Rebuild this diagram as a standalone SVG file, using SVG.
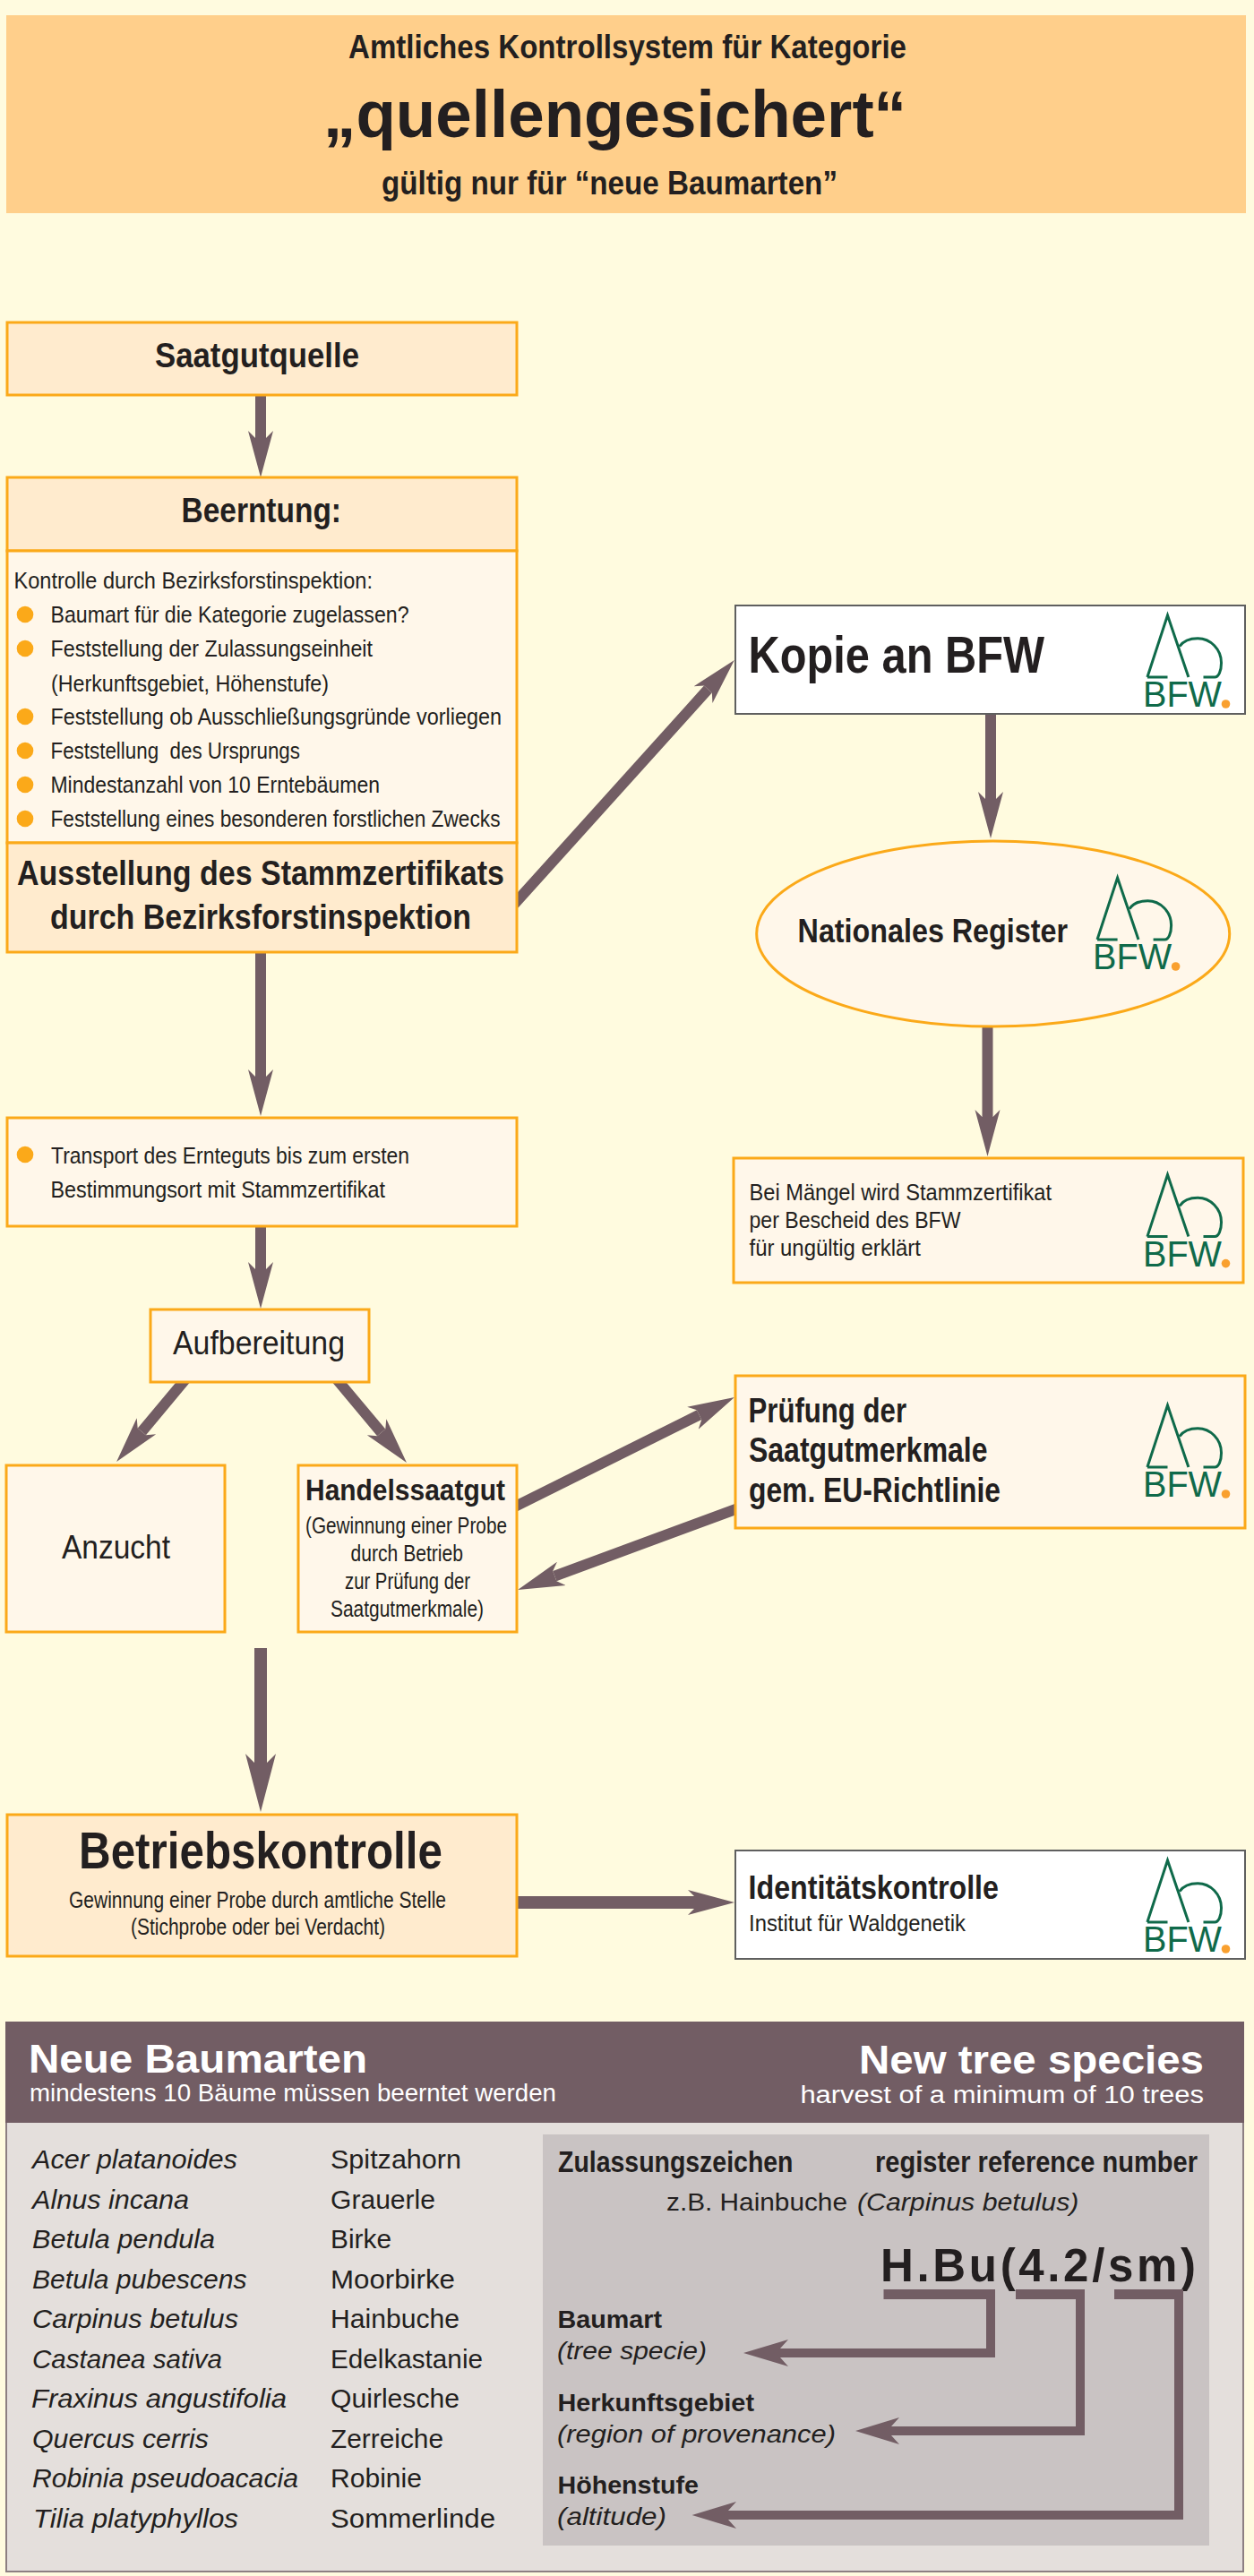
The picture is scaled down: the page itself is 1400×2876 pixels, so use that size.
<svg xmlns="http://www.w3.org/2000/svg" width="1400" height="2876" viewBox="0 0 1400 2876">
<defs>
<style>
text{font-family:"Liberation Sans",Arial,sans-serif;fill:#231f20}
.b{font-weight:700}
.i{font-style:italic}
.w{fill:#fff}
.body{font-size:25px}
.h38{font-size:38px;font-weight:700}
.sp{font-size:30px}
.lab{font-size:28px;font-weight:700}
.ita{font-size:28px;font-style:italic}
.strong{fill:#ffebce;stroke:#fba919;stroke-width:3}
.soft{fill:#fff7ea;stroke:#fba919;stroke-width:3}
.white{fill:#fff;stroke:#5f5f5f;stroke-width:2}
.bul{fill:#fba919}
.sh{stroke:#725d64;stroke-width:12;fill:none}
.sh14{stroke:#725d64;stroke-width:14;fill:none}
.br{fill:#725d64}
.lg{fill:none;stroke:#0f6a4a;stroke-width:3}
.lt{font-size:40px;fill:#0f6a4a}
</style>
<marker id="ah" markerUnits="userSpaceOnUse" markerWidth="54" markerHeight="30" viewBox="0 0 54 30" refX="8" refY="15" orient="auto"><path d="M52,15 L0,1 L8,9 L8,21 L0,29Z" fill="#725d64"/></marker>
<marker id="ahb" markerUnits="userSpaceOnUse" markerWidth="67" markerHeight="36" viewBox="0 0 67 36" refX="10" refY="18" orient="auto"><path d="M65,18 L0,1 L10,11 L10,25 L0,35Z" fill="#725d64"/></marker>
<g id="logo">
<path class="lg" d="M-22.6,72 H0 M-22.6,72 L0,3 L23.4,72"/>
<path class="lg" d="M13.4,37.7 C18,31 25,28.7 33.7,28.7 C48,28.7 60,41 60,56 C60,65 57,72 52.7,72 H40"/>
<text class="lt" x="-27.5" y="105.3" textLength="88" lengthAdjust="spacingAndGlyphs">BFW</text>
<circle cx="65" cy="102" r="4.8" fill="#f9a02f"/>
</g>
</defs>
<rect width="1400" height="2876" fill="#fffbdf"/>

<g id="connectors">
<line class="sh" x1="291" y1="440" x2="291" y2="489" marker-end="url(#ah)"/>
<line class="sh" x1="291" y1="1060" x2="291" y2="1202" marker-end="url(#ah)"/>
<line class="sh" x1="291" y1="1367" x2="291" y2="1417" marker-end="url(#ah)"/>
<line class="sh" x1="207" y1="1540" x2="158.3" y2="1598.3" marker-end="url(#ah)"/>
<line class="sh" x1="376" y1="1540" x2="425.7" y2="1599.3" marker-end="url(#ah)"/>
<line class="sh14" x1="291" y1="1840" x2="291" y2="1968" marker-end="url(#ahb)"/>
<line class="sh14" x1="575" y1="2124" x2="776" y2="2124" marker-end="url(#ah)"/>
<line class="sh" x1="574" y1="1009.5" x2="790.4" y2="769.6" marker-end="url(#ah)"/>
<line class="sh" x1="1106" y1="795" x2="1106" y2="892" marker-end="url(#ah)"/>
<line class="sh" x1="1102.5" y1="1144" x2="1102.5" y2="1247" marker-end="url(#ah)"/>
<line class="sh" x1="574" y1="1682.5" x2="780.6" y2="1579.6" marker-end="url(#ah)"/>
<line class="sh" x1="823" y1="1684.3" x2="619.3" y2="1759.7" marker-end="url(#ah)"/>
</g>

<g id="header">
<rect x="7" y="17" width="1384" height="221" fill="#ffcf8b"/>
<text class="b" x="389" y="65" font-size="37" textLength="623" lengthAdjust="spacingAndGlyphs">Amtliches Kontrollsystem für Kategorie</text>
<text class="b" x="361" y="153" font-size="74" textLength="651" lengthAdjust="spacingAndGlyphs">„quellengesichert“</text>
<text class="b" x="426" y="217" font-size="36" textLength="509" lengthAdjust="spacingAndGlyphs">gültig nur für “neue Baumarten”</text>
</g>

<g id="saatgutquelle">
<rect class="strong" x="8" y="360" width="569" height="81"/>
<text class="h38" x="173" y="410" textLength="228" lengthAdjust="spacingAndGlyphs">Saatgutquelle</text>
</g>

<g id="beerntung">
<rect class="strong" x="8" y="533" width="569" height="82"/>
<text class="h38" x="202.5" y="583" textLength="178.5" lengthAdjust="spacingAndGlyphs">Beerntung:</text>
</g>

<g id="kontrolle">
<rect class="soft" x="8" y="615" width="569" height="326"/>
<text class="body" x="15.5" y="657" textLength="400.5" lengthAdjust="spacingAndGlyphs">Kontrolle durch Bezirksforstinspektion:</text>
<circle class="bul" cx="28" cy="686" r="9.3"/>
<text class="body" x="56.5" y="695" textLength="400" lengthAdjust="spacingAndGlyphs">Baumart für die Kategorie zugelassen?</text>
<circle class="bul" cx="28" cy="724" r="9.3"/>
<text class="body" x="56.5" y="733" textLength="359.5" lengthAdjust="spacingAndGlyphs">Feststellung der Zulassungseinheit</text>
<text class="body" x="57" y="772" textLength="310" lengthAdjust="spacingAndGlyphs">(Herkunftsgebiet, Höhenstufe)</text>
<circle class="bul" cx="28" cy="800" r="9.3"/>
<text class="body" x="56.5" y="809" textLength="503.5" lengthAdjust="spacingAndGlyphs">Feststellung ob Ausschließungsgründe vorliegen</text>
<circle class="bul" cx="28" cy="838" r="9.3"/>
<text class="body" x="56.5" y="847" textLength="278.5" lengthAdjust="spacingAndGlyphs" xml:space="preserve">Feststellung  des Ursprungs</text>
<circle class="bul" cx="28" cy="876" r="9.3"/>
<text class="body" x="56.5" y="885" textLength="367.5" lengthAdjust="spacingAndGlyphs">Mindestanzahl von 10 Erntebäumen</text>
<circle class="bul" cx="28" cy="914" r="9.3"/>
<text class="body" x="56.5" y="923" textLength="502" lengthAdjust="spacingAndGlyphs">Feststellung eines besonderen forstlichen Zwecks</text>
</g>

<g id="ausstellung">
<rect class="strong" x="8" y="941" width="569" height="122"/>
<text class="h38" x="19" y="988" textLength="544" lengthAdjust="spacingAndGlyphs">Ausstellung des Stammzertifikats</text>
<text class="h38" x="56" y="1037" textLength="470" lengthAdjust="spacingAndGlyphs">durch Bezirksforstinspektion</text>
</g>

<g id="transport">
<rect class="soft" x="8" y="1248" width="569" height="121"/>
<circle class="bul" cx="28" cy="1289" r="9.3"/>
<text class="body" x="57" y="1299" textLength="400" lengthAdjust="spacingAndGlyphs">Transport des Ernteguts bis zum ersten</text>
<text class="body" x="56.5" y="1337" textLength="373.5" lengthAdjust="spacingAndGlyphs">Bestimmungsort mit Stammzertifikat</text>
</g>

<g id="aufbereitung">
<rect class="soft" x="168" y="1462" width="244" height="81"/>
<text x="193" y="1512" font-size="37" textLength="192" lengthAdjust="spacingAndGlyphs">Aufbereitung</text>
</g>

<g id="anzucht">
<rect class="soft" x="7" y="1636" width="244" height="186"/>
<text x="69" y="1740" font-size="37" textLength="121" lengthAdjust="spacingAndGlyphs">Anzucht</text>
</g>

<g id="handelssaatgut">
<rect class="soft" x="333" y="1636" width="244" height="186"/>
<text class="b" x="341" y="1675" font-size="34" textLength="223" lengthAdjust="spacingAndGlyphs">Handelssaatgut</text>
<text x="341" y="1712" font-size="26" textLength="225" lengthAdjust="spacingAndGlyphs">(Gewinnung einer Probe</text>
<text x="391.5" y="1743" font-size="26" textLength="125.5" lengthAdjust="spacingAndGlyphs">durch Betrieb</text>
<text x="385" y="1774" font-size="26" textLength="140" lengthAdjust="spacingAndGlyphs">zur Prüfung der</text>
<text x="369" y="1805" font-size="26" textLength="171" lengthAdjust="spacingAndGlyphs">Saatgutmerkmale)</text>
</g>

<g id="betriebskontrolle">
<rect class="strong" x="8" y="2026" width="569" height="158"/>
<text class="b" x="88" y="2086" font-size="57" textLength="406" lengthAdjust="spacingAndGlyphs">Betriebskontrolle</text>
<text x="77" y="2130" font-size="26" textLength="421" lengthAdjust="spacingAndGlyphs">Gewinnung einer Probe durch amtliche Stelle</text>
<text x="146" y="2160" font-size="26" textLength="284" lengthAdjust="spacingAndGlyphs">(Stichprobe oder bei Verdacht)</text>
</g>

<g id="kopie">
<rect class="white" x="821" y="676" width="569" height="121"/>
<text class="b" x="835.5" y="751" font-size="57" textLength="330.5" lengthAdjust="spacingAndGlyphs">Kopie an BFW</text>
<use href="#logo" x="1303.5" y="684"/>
</g>

<g id="register">
<ellipse class="soft" cx="1108.7" cy="1042.5" rx="264" ry="103.5"/>
<text class="b" x="890.6" y="1052" font-size="36" textLength="301.4" lengthAdjust="spacingAndGlyphs">Nationales Register</text>
<use href="#logo" x="1247.6" y="977"/>
</g>

<g id="maengel">
<rect class="soft" x="819" y="1293" width="569" height="139"/>
<text class="body" x="836.5" y="1340" textLength="337.5" lengthAdjust="spacingAndGlyphs">Bei Mängel wird Stammzertifikat</text>
<text class="body" x="836.5" y="1371" textLength="236" lengthAdjust="spacingAndGlyphs">per Bescheid des BFW</text>
<text class="body" x="836.5" y="1402" textLength="191.5" lengthAdjust="spacingAndGlyphs">für ungültig erklärt</text>
<use href="#logo" x="1303.5" y="1308.6"/>
</g>

<g id="pruefung">
<rect class="soft" x="821" y="1536" width="569" height="170"/>
<text class="h38" x="835.5" y="1588" textLength="176.5" lengthAdjust="spacingAndGlyphs">Prüfung der</text>
<text class="h38" x="836" y="1632" textLength="266.5" lengthAdjust="spacingAndGlyphs">Saatgutmerkmale</text>
<text class="h38" x="836" y="1677" textLength="281" lengthAdjust="spacingAndGlyphs">gem. EU-Richtlinie</text>
<use href="#logo" x="1303.5" y="1566"/>
</g>

<g id="identitaet">
<rect class="white" x="821" y="2066" width="569" height="121"/>
<text class="b" x="835.5" y="2120" font-size="36" textLength="279.5" lengthAdjust="spacingAndGlyphs">Identitätskontrolle</text>
<text class="body" x="836" y="2156" textLength="242" lengthAdjust="spacingAndGlyphs">Institut für Waldgenetik</text>
<use href="#logo" x="1303.5" y="2074"/>
</g>

<g id="panel">
<rect x="7" y="2258" width="1381" height="613" fill="#e4dfdc" stroke="#8d7f82" stroke-width="2"/>
<rect x="6" y="2257" width="1383" height="113" fill="#725d64"/>
<text class="b w" x="32" y="2314" font-size="44" textLength="378" lengthAdjust="spacingAndGlyphs">Neue Baumarten</text>
<text class="w" x="33" y="2346" font-size="27" textLength="588" lengthAdjust="spacingAndGlyphs">mindestens 10 Bäume müssen beerntet werden</text>
<text class="b w" x="959" y="2315" font-size="44" textLength="385" lengthAdjust="spacingAndGlyphs">New tree species</text>
<text class="w" x="893.4" y="2348" font-size="27" textLength="450.6" lengthAdjust="spacingAndGlyphs">harvest of a minimum of 10 trees</text>

<g class="species">
<text class="sp i" x="36" y="2421" textLength="229" lengthAdjust="spacingAndGlyphs">Acer platanoides</text>
<text class="sp i" x="36" y="2465.5" textLength="175" lengthAdjust="spacingAndGlyphs">Alnus incana</text>
<text class="sp i" x="36" y="2510" textLength="204" lengthAdjust="spacingAndGlyphs">Betula pendula</text>
<text class="sp i" x="36" y="2554.5" textLength="239.5" lengthAdjust="spacingAndGlyphs">Betula pubescens</text>
<text class="sp i" x="36" y="2599" textLength="230" lengthAdjust="spacingAndGlyphs">Carpinus betulus</text>
<text class="sp i" x="36" y="2643.5" textLength="212" lengthAdjust="spacingAndGlyphs">Castanea sativa</text>
<text class="sp i" x="35" y="2688" textLength="285" lengthAdjust="spacingAndGlyphs">Fraxinus angustifolia</text>
<text class="sp i" x="36" y="2732.5" textLength="197" lengthAdjust="spacingAndGlyphs">Quercus cerris</text>
<text class="sp i" x="36" y="2777" textLength="297" lengthAdjust="spacingAndGlyphs">Robinia pseudoacacia</text>
<text class="sp i" x="37" y="2821.5" textLength="229" lengthAdjust="spacingAndGlyphs">Tilia platyphyllos</text>
<text class="sp" x="369" y="2421" textLength="146" lengthAdjust="spacingAndGlyphs">Spitzahorn</text>
<text class="sp" x="369" y="2465.5" textLength="117" lengthAdjust="spacingAndGlyphs">Grauerle</text>
<text class="sp" x="369" y="2510" textLength="68" lengthAdjust="spacingAndGlyphs">Birke</text>
<text class="sp" x="369" y="2554.5" textLength="139" lengthAdjust="spacingAndGlyphs">Moorbirke</text>
<text class="sp" x="369" y="2599" textLength="144" lengthAdjust="spacingAndGlyphs">Hainbuche</text>
<text class="sp" x="369" y="2643.5" textLength="170" lengthAdjust="spacingAndGlyphs">Edelkastanie</text>
<text class="sp" x="369" y="2688" textLength="144" lengthAdjust="spacingAndGlyphs">Quirlesche</text>
<text class="sp" x="369" y="2732.5" textLength="126" lengthAdjust="spacingAndGlyphs">Zerreiche</text>
<text class="sp" x="369" y="2777" textLength="102" lengthAdjust="spacingAndGlyphs">Robinie</text>
<text class="sp" x="369" y="2821.5" textLength="184" lengthAdjust="spacingAndGlyphs">Sommerlinde</text>
</g>
</g>

<g id="reference-number">
<rect x="606" y="2383" width="744" height="459" fill="#c9c3c3"/>
<text class="b" x="623" y="2425" font-size="33" textLength="262.5" lengthAdjust="spacingAndGlyphs">Zulassungszeichen</text>
<text class="b" x="977" y="2425" font-size="33" textLength="360" lengthAdjust="spacingAndGlyphs">register reference number</text>
<text x="744" y="2468" font-size="28" textLength="202" lengthAdjust="spacingAndGlyphs">z.B. Hainbuche</text>
<text class="i" x="957" y="2468" font-size="28" textLength="247.4" lengthAdjust="spacingAndGlyphs">(Carpinus betulus)</text>
<text class="b" x="983" y="2547" font-size="51" textLength="352" lengthAdjust="spacing">H.Bu(4.2/sm)</text>
<text class="lab" x="622.5" y="2599" textLength="116.5" lengthAdjust="spacingAndGlyphs">Baumart</text>
<text class="ita" x="622" y="2634" textLength="167" lengthAdjust="spacingAndGlyphs">(tree specie)</text>
<text class="lab" x="622.5" y="2692" textLength="219.5" lengthAdjust="spacingAndGlyphs">Herkunftsgebiet</text>
<text class="ita" x="622" y="2727" textLength="311" lengthAdjust="spacingAndGlyphs">(region of provenance)</text>
<text class="lab" x="622.5" y="2784" textLength="157.5" lengthAdjust="spacingAndGlyphs">Höhenstufe</text>
<text class="ita" x="622" y="2819" textLength="122" lengthAdjust="spacingAndGlyphs">(altitude)</text>
<path class="br" d="M986.5,2556 H1111 V2632 H871 L880,2642 L830,2627 L880,2612 L871,2622 H1101 V2567 H986.5Z"/>
<path class="br" d="M1134,2556 H1211 V2719 H995 L1004,2729 L955,2714 L1004,2699 L995,2709 H1201 V2567 H1134Z"/>
<path class="br" d="M1244,2556 H1321 V2813 H813 L822,2823 L772.6,2808 L822,2793 L813,2803 H1311 V2567 H1244Z"/>
</g>
</svg>
